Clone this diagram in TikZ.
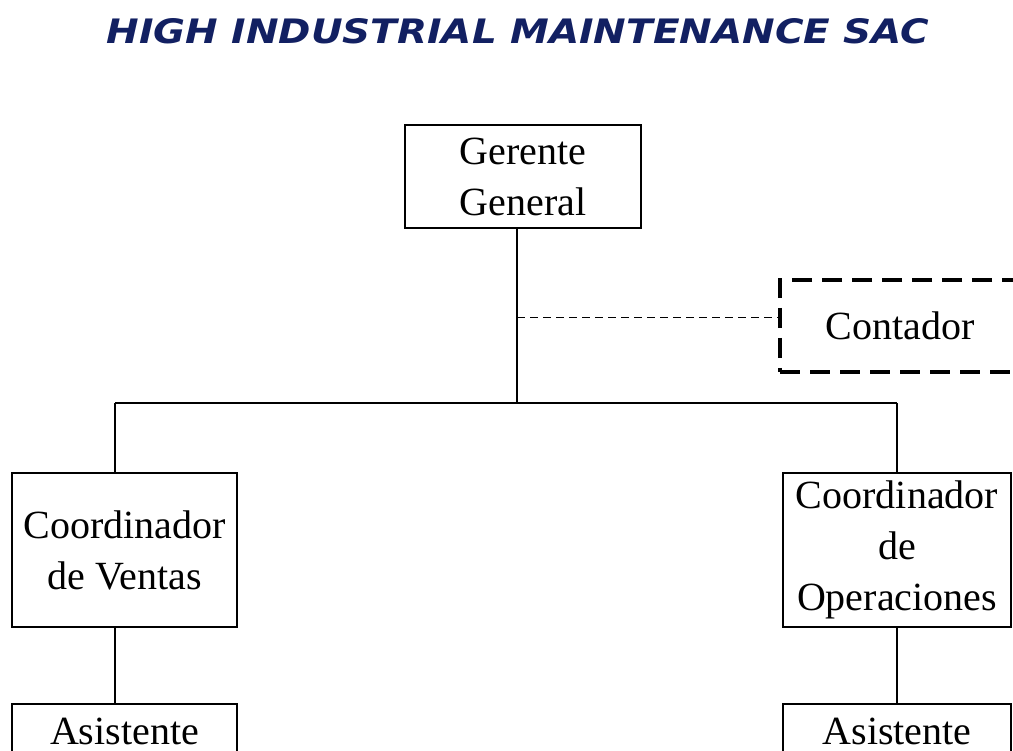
\documentclass[tikz,border=0pt]{standalone}
\usepackage{fontspec}
\setmainfont{Liberation Serif}
\newfontfamily\titlefont{DejaVu Sans}
\usepackage{tikz}
\usetikzlibrary{positioning, calc}
\definecolor{TitleBlue}{RGB}{18, 32, 98}

\begin{document}
\begin{tikzpicture}[
    x=1pt, y=-1pt,
    cargo/.style={draw, line width=1.6pt, align=center, inner sep=0pt,
        font=\fontsize{40}{51}\selectfont},
    asistente/.style={cargo, anchor=north, minimum width=225pt, inner ysep=14pt,
        text height=27pt, text depth=40pt},
    enlace/.style={line width=1.3pt},
    apoyo/.style={line width=1pt, dash pattern=on 8pt off 5pt},
]
\useasboundingbox (0,0) rectangle (1013,751);
\clip (0,0) rectangle (1013,751);

% --- titulo ---
\node[text=TitleBlue, inner sep=0pt] (titulo) at (518,31)
    {\resizebox{823pt}{25pt}{\titlefont\bfseries\itshape HIGH INDUSTRIAL MAINTENANCE SAC}};

% --- gerencia ---
\node[cargo, minimum width=236pt, minimum height=103pt] (gerente) at (523,176.5)
    {Gerente\\ General};
\node[cargo, line width=3.5pt, dash pattern=on 20pt off 10pt,
      minimum width=240pt, minimum height=92pt] (contador) at (900,326) {Contador};

% --- coordinaciones ---
\node[cargo, minimum width=225pt, minimum height=154pt] (ventas) at (124.5,550)
    {Coordinador\\ de Ventas};
\node[cargo, minimum width=228pt, minimum height=154pt] (operaciones) at (897,550)
    {Coordinador\\ de\\ Operaciones};

% --- asistentes ---
\node[asistente] (asisV) at (124.5,703) {Asistente};
\node[asistente, minimum width=228pt] (asisO) at (897,703) {Asistente};

% conectores
\coordinate (tronco) at (517,403);
\coordinate (busV) at (115,403);
\coordinate (busO) at (897,403);
\coordinate (toma) at (517,318);
\draw[enlace] (gerente.south -| tronco) -- (tronco);
\draw[apoyo] (toma) -- (toma -| contador.west);
\draw[enlace] (busV) -- (busO);
\draw[enlace] (busV) -- (busV |- ventas.north);
\draw[enlace] (busO) -- (operaciones.north);
\draw[enlace] (ventas.south -| busV) -- (asisV.north -| busV);
\draw[enlace] (operaciones.south) -- (asisO.north);

\end{tikzpicture}
\end{document}
